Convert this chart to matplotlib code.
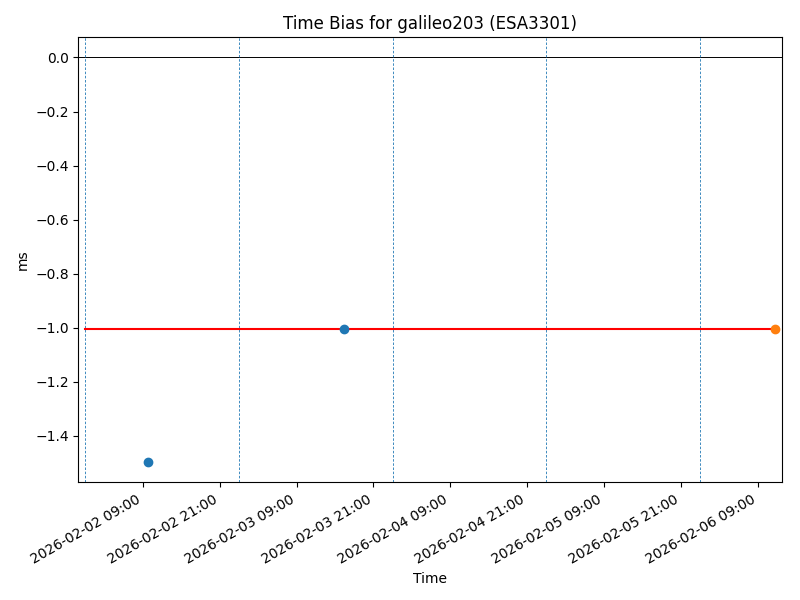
import matplotlib
matplotlib.use("Agg")
import matplotlib.pyplot as plt
import matplotlib.dates as mdates
from datetime import datetime

# Data
blue_times = [datetime(2026, 2, 2, 9, 47), datetime(2026, 2, 3, 16, 28)]
blue_values = [-1.497, -1.005]
orange_times = [datetime(2026, 2, 6, 11, 45)]
orange_values = [-1.005]
mean_value = -1.005
mean_start = datetime(2026, 2, 2, 0, 0)
mean_end = datetime(2026, 2, 6, 11, 45)
day_marks = [datetime(2026, 2, 2), datetime(2026, 2, 3), datetime(2026, 2, 4),
             datetime(2026, 2, 5), datetime(2026, 2, 6)]
x_limits = (datetime(2026, 2, 1, 22, 57), datetime(2026, 2, 6, 12, 50))

fig, ax = plt.subplots(figsize=(8, 6), dpi=100)
fig.subplots_adjust(left=0.098, right=0.978, top=0.938, bottom=0.196)

ax.axhline(0, color="black", lw=0.7)
for d in day_marks:
    ax.axvline(d, color="C0", ls="--", lw=0.6, dashes=(3, 2))
ax.plot([mean_start, mean_end], [mean_value, mean_value], color="red", lw=1.5)
ax.plot(blue_times, blue_values, "o", color="C0")
ax.plot(orange_times, orange_values, "o", color="C1")

ax.set_xlim(*x_limits)
ax.xaxis.set_major_locator(mdates.HourLocator(byhour=[9, 21]))
ax.xaxis.set_major_formatter(mdates.DateFormatter("%Y-%m-%d %H:%M"))
for lbl in ax.get_xticklabels():
    lbl.set_rotation(30)
    lbl.set_ha("right")

ax.set_title("Time Bias for galileo203 (ESA3301)")
ax.set_xlabel("Time")
ax.set_ylabel("ms")

fig.savefig("out.png", dpi=100)
